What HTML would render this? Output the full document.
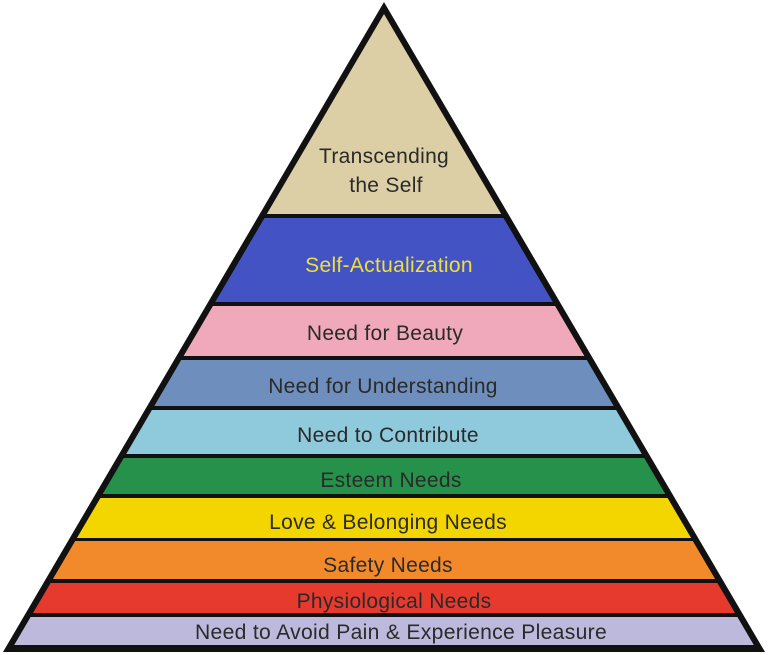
<!DOCTYPE html>
<html><head><meta charset="utf-8"><style>html,body{margin:0;padding:0;background:#fff}svg{display:block}</style></head>
<body>
<svg width="768" height="655" viewBox="0 0 768 655" xmlns="http://www.w3.org/2000/svg" font-family="Liberation Sans, sans-serif" font-size="21" letter-spacing="0.3" text-anchor="middle" fill="#222">
<polygon points="384,2 3,652 765,652" fill="#111"/>
<polygon points="384,14 266.8,214 501.2,214" fill="#dccfa6"/>
<polygon points="264.5,218 503.5,218 552.8,302 215.2,302" fill="#4353c4"/>
<polygon points="212.9,306 555.1,306 584.4,356 183.6,356" fill="#f0a9bb"/>
<polygon points="181.2,360 586.8,360 613.7,406 154.3,406" fill="#6e8fbd"/>
<polygon points="151.9,410 616.1,410 641.8,454 126.2,454" fill="#8fc9dc"/>
<polygon points="123.8,458 644.2,458 665.3,494 102.7,494" fill="#26914a"/>
<polygon points="100.4,498 667.6,498 691.1,538 76.9,538" fill="#f3d600"/>
<polygon points="75.2,541 692.8,541 715.1,579 52.9,579" fill="#f28a2c"/>
<polygon points="50.6,583 717.4,583 735,613 33,613" fill="#e63a2e"/>
<polygon points="30.6,617 737.4,617 753.8,645 14.2,645" fill="#bdb9dc"/>
<g fill="#2a2a2a">
<text x="384" y="163">Transcending</text>
<text x="386" y="192">the Self</text>
<text x="389" y="272" fill="#ece03a">Self-Actualization</text>
<text x="385" y="340">Need for Beauty</text>
<text x="383" y="393">Need for Understanding</text>
<text x="388" y="442">Need to Contribute</text>
<text x="391" y="487">Esteem Needs</text>
<text x="388" y="529">Love &amp; Belonging  Needs</text>
<text x="388" y="572">Safety Needs</text>
<text x="394" y="608">Physiological Needs</text>
<text x="401" y="639" textLength="412" lengthAdjust="spacingAndGlyphs">Need to Avoid Pain &amp; Experience Pleasure</text>
</g>
</svg>
</body></html>
